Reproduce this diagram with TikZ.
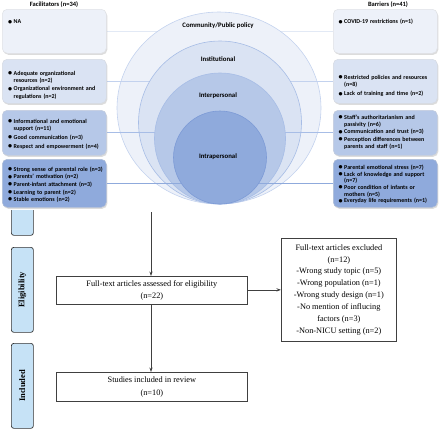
\documentclass[tikz,border=0pt]{standalone}
\usepackage{fontspec}
\setmainfont{Liberation Serif}
\newfontfamily\carl{Carlito}
\usetikzlibrary{shadows,arrows.meta}
\definecolor{bA}{HTML}{EDF1F9}
\definecolor{bB}{HTML}{DAE3F3}
\definecolor{bC}{HTML}{B6C8E8}
\definecolor{bD}{HTML}{8FAADC}
\definecolor{eA}{HTML}{D5DFF1}
\definecolor{eB}{HTML}{C3D2EE}
\definecolor{eC}{HTML}{A7BDE6}
\definecolor{eD}{HTML}{7D9BD6}
\definecolor{stg}{HTML}{C6E2F6}
\definecolor{dk}{HTML}{404040}
\pgfdeclarelayer{l0}\pgfdeclarelayer{l1}\pgfdeclarelayer{l2}\pgfdeclarelayer{l3}
\pgfdeclarelayer{l4}\pgfdeclarelayer{l5}\pgfdeclarelayer{l6}\pgfdeclarelayer{l7}
\pgfsetlayers{l0,l1,l2,l3,l4,l5,l6,l7,main}
\newcommand\bit[1]{\par\hangindent=5.5bp\hangafter=1\noindent\makebox[5.5bp][l]{\raisebox{-0.25bp}{\scalebox{1.35}{\textbullet}}}#1\par}
\newcommand\lsk[1]{\setlength{\parskip}{#1}}
\newcommand\nl{\newline}
\tikzset{
  sbox/.style={draw=#1!85!black!60!white, fill=#1, rounded corners=5bp, line width=0.5bp,
    drop shadow={shadow xshift=1bp, shadow yshift=-1.5bp, fill=black!30, opacity=0.45},
    anchor=north west, inner sep=0},
  ltext/.style={anchor=north west, inner sep=0, text width=98bp, align=left,
    font=\carl\bfseries\fontsize{6bp}{7.2bp}\selectfont},
  clab/.style={font=\carl\bfseries\fontsize{6.8bp}{8bp}\selectfont},
  hdr/.style={font=\carl\bfseries\fontsize{6.5bp}{8bp}\selectfont},
  fbox/.style={draw=dk, line width=0.7bp, fill=white, align=center, inner sep=0,
    anchor=north west, font=\fontsize{8.3bp}{12.5bp}\selectfont},
  stagebox/.style={draw=black!80, fill=stg, rounded corners=2.5bp, line width=0.7bp,
    anchor=north west, inner sep=0, minimum width=22bp},
  stagetxt/.style={rotate=90, font=\bfseries\fontsize{8.5bp}{10bp}\selectfont},
  arr/.style={draw=dk, line width=0.7bp, -{Stealth[length=4.5bp,width=3.2bp]}},
}
\begin{document}
\begin{tikzpicture}[x=1bp,y=-1bp]
\useasboundingbox (0,0) rectangle (440,432);

% headers
\node[hdr] (hf) at (54,4.5) {Facilitators (n=34)};
\node[hdr] (hb) at (388,4.5) {Barriers (n=41)};

% left boxes
\node[sbox=bA, minimum width=104bp, minimum height=44bp] (L1) at (2,9) {};
\node[sbox=bB, minimum width=104bp, minimum height=44bp] (L2) at (2,59) {};
\node[sbox=bC, minimum width=104bp, minimum height=45bp] (L3) at (2,110) {};
\node[sbox=bD, minimum width=104bp, minimum height=48bp] (L4) at (2,159) {};
% right boxes
\node[sbox=bA, minimum width=104bp, minimum height=44bp] (R1) at (333,9) {};
\node[sbox=bB, minimum width=104bp, minimum height=44bp] (R2) at (333,59) {};
\node[sbox=bC, minimum width=104bp, minimum height=45bp] (R3) at (333,110) {};
\node[sbox=bD, minimum width=104bp, minimum height=48bp] (R4) at (333,159) {};

% box texts
\node[ltext] (tL1) at (8,16.5) {\bit{NA}};
\node[ltext] (tL2) at (8,67) {\lsk{1bp}\bit{Adequate organizational\nl resources (n=2)}\bit{Organizational environment and\nl regulations (n=2)}};
\node[ltext] (tL3) at (8,114.5) {\lsk{1.5bp}\bit{Informational and emotional\nl support (n=11)}\bit{Good communication (n=3)}\bit{Respect and empowerment (n=4)}};
\node[ltext] (tL4) at (8,163.5) {\lsk{0.4bp}\bit{Strong sense of parental role (n=3)}\bit{Parents’ motivation (n=2)}\bit{Parent-infant attachment (n=3)}\bit{Learning to parent (n=2)}\bit{Stable emotions (n=2)}};
\node[ltext] (tR1) at (338.5,16.5) {\bit{COVID-19 restrictions (n=1)}};
\node[ltext] (tR2) at (338.5,70) {\lsk{2bp}\bit{Restricted policies and resources\nl (n=8)}\bit{Lack of training and time (n=2)}};
\node[ltext] (tR3) at (338.5,111.5) {\lsk{0.3bp}\bit{Staff’s authoritarianism and\nl passivity (n=6)}\bit{Communication and trust (n=3)}\bit{Perception differences between\nl parents and staff (n=1)}};
\node[ltext] (tR4) at (338.5,162.5) {\lsk{0bp}\fontsize{6bp}{6.7bp}\selectfont\bit{Parental emotional stress (n=7)}\bit{Lack of knowledge and support\nl (n=7)}\bit{Poor condition of infants or\nl mothers (n=5)}\bit{Everyday life requirements (n=1)}};

% connectors and circles (layered)
\begin{pgfonlayer}{l0}
\draw[eA!70!white, line width=0.8bp] (L1.east) -- (R1.west);
\end{pgfonlayer}
\begin{pgfonlayer}{l1}
\filldraw[fill=bA, draw=eB, line width=0.6bp] (219,108) ellipse [x radius=102, y radius=96];
\end{pgfonlayer}
\begin{pgfonlayer}{l2}
\draw[eB, line width=0.8bp] (L2.east) -- (R2.west);
\end{pgfonlayer}
\begin{pgfonlayer}{l3}
\filldraw[fill=bB, draw=eC, line width=0.6bp] (220,122.5) circle [radius=81.5];
\end{pgfonlayer}
\begin{pgfonlayer}{l4}
\draw[eC, line width=0.8bp] (L3.east) -- (R3.west);
\end{pgfonlayer}
\begin{pgfonlayer}{l5}
\filldraw[fill=bC, draw=eC, line width=0.6bp] (220,138.5) circle [radius=65.5];
\end{pgfonlayer}
\begin{pgfonlayer}{l6}
\draw[bD, line width=0.8bp] (L4.east) -- (R4.west);
\end{pgfonlayer}
\begin{pgfonlayer}{l7}
\filldraw[fill=bD, draw=eD, line width=0.6bp] (220,157.5) circle [radius=46.5];
\end{pgfonlayer}

% circle labels
\node[clab] (c1) at (218,26) {Community/Public policy};
\node[clab] (c2) at (218,59) {Institutional};
\node[clab] (c3) at (218,96) {Interpersonal};
\node[clab] (c4) at (218,157) {Intrapersonal};

% PRISMA part
\coordinate (top) at (151,212);
\node[fbox, minimum width=191bp, minimum height=28bp] (ft) at (56,276) {Full-text articles assessed for eligibility\\(n=22)};
\node[fbox, minimum width=191bp, minimum height=29bp] (inc) at (56,372) {Studies included in review\\(n=10)};
\node[fbox, minimum width=115bp, minimum height=103bp, font=\fontsize{8.3bp}{11.9bp}\selectfont] (ex) at (281,238) {Full-text articles excluded\\(n=12)\\-Wrong study topic (n=5)\\-Wrong population (n=1)\\-Wrong study design (n=1)\\-No mention of influcing\\factors (n=3)\\-Non-NICU setting (n=2)};

\draw[arr] (top) -- (ft.north -| top);
\draw[arr] (ft.south -| top) -- (inc.north -| top);
\draw[arr] (ft.east |- ex.west) -- (ex.west);

% stage boxes
\begin{scope}
\clip (0,210.5) rectangle (60,432);
\node[stagebox, minimum height=40bp] (s0) at (11,195) {};
\end{scope}
\node[stagebox, minimum height=85bp] (s1) at (11,247) {};
\node[stagetxt] at (s1.center) {Eligibility};
\node[stagebox, minimum height=85bp] (s2) at (11,343) {};
\node[stagetxt] at (s2.center) {Included};
\end{tikzpicture}
\end{document}
